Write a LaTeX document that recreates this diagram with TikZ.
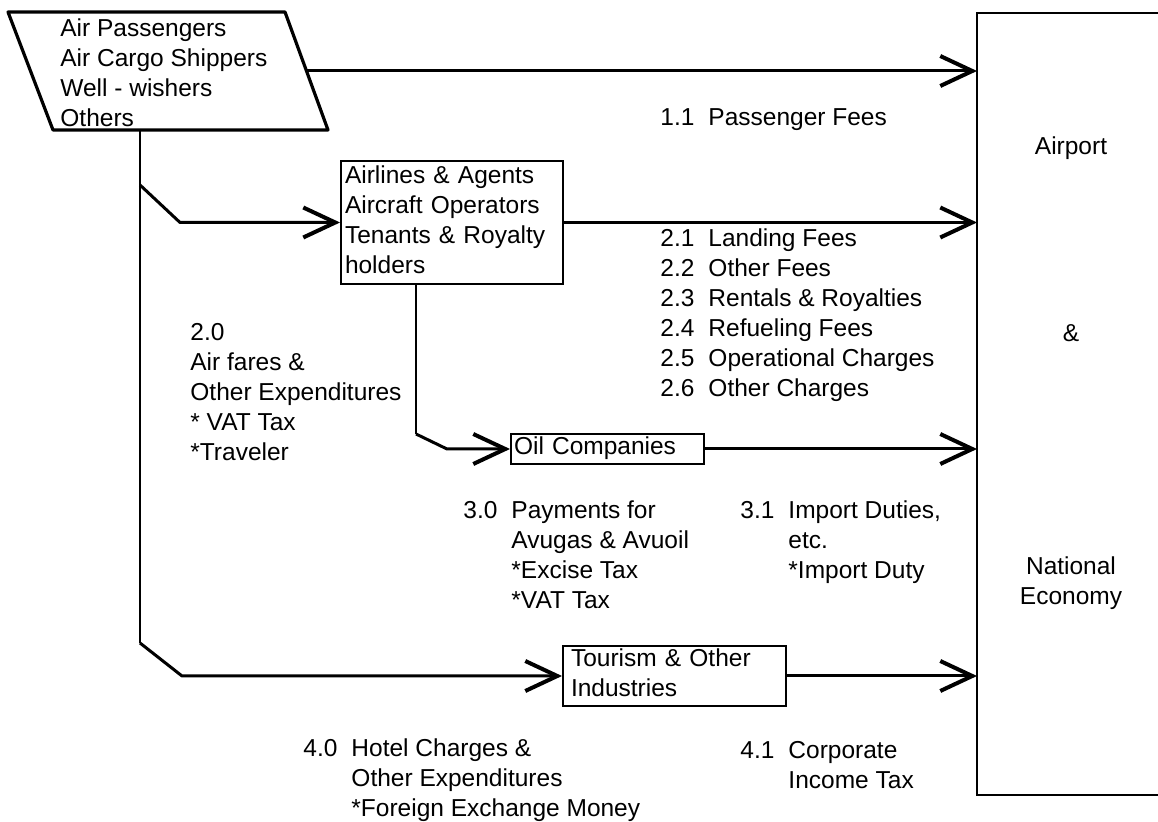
\documentclass[tikz,border=0pt]{standalone}
\usepackage{fontspec}
\setmainfont{Liberation Sans}
\usetikzlibrary{arrows.meta, calc}

\newcommand{\flowlist}[1]{\begin{tabular}{@{}l@{\hspace{7pt}}l@{}}#1\end{tabular}}
\newcommand{\plainlist}[1]{\begin{tabular}{@{}l@{}}#1\end{tabular}}

\begin{document}
\begin{tikzpicture}[
    x=0.5pt, y=-0.5pt,
    font=\fontsize{12.25}{15}\selectfont,
    flow/.style={line width=1.5pt, line join=round, -{Straight Barb[length=16pt, width=15pt, line width=2pt]}},
    trunk/.style={line width=1.2pt},
    box/.style={draw, line width=1pt, anchor=north west, inner ysep=0pt, align=left},
    lbl/.style={anchor=north west, inner sep=0pt},
]
    \useasboundingbox (0,0) rectangle (1158,822);

    % who pays
    \coordinate (srcTL) at (8,12);
    \coordinate (srcTR) at (285,12);
    \coordinate (srcBR) at (328,130);
    \coordinate (srcBL) at (53,130);
    \draw[line width=1.6pt, line join=round] (srcTL) -- (srcTR) -- (srcBR) -- (srcBL) -- cycle;
    \node[lbl] (src) at (60,15) {\plainlist{Air Passengers\\Air Cargo Shippers\\Well - wishers\\Others}};

    % who receives (runs off the right edge)
    \node[anchor=north west, minimum width=90.5pt, minimum height=390pt, inner sep=0pt, outer sep=0.5pt] (econ) at (977,13) {};
    \draw[line width=1pt] (econ.north east) -- (econ.north west) -- (econ.south west) -- (econ.south east);
    \node (airport) at (1071,148) {Airport};
    \node (amp) at (1071,333) {\&};
    \node[align=center] (natl) at (1071,583) {National\\Economy};

    % intermediaries
    \node[box, minimum width=111pt, minimum height=61.5pt, text width=107pt, inner xsep=2pt] (air) at (340,160)
        {\plainlist{Airlines \& Agents\\Aircraft Operators\\Tenants \& Royalty\\holders}};
    \node[box, minimum height=14.5pt, text width=93.5pt, inner xsep=1.5pt] (oil) at (510,433)
        {\plainlist{Oil Companies}};
    \node[box, minimum height=30pt, text width=103.5pt, inner xsep=4pt] (tour) at (562,645)
        {\plainlist{Tourism \& Other\\Industries}};

    % money flows
    \coordinate (srcR) at ($(srcTR)!0.5!(srcBR)$);
    \draw[flow] (srcR) -- (srcR -| econ.west);

    \coordinate (srcB) at (140,130);
    \coordinate (fork) at (140,185);
    \coordinate (low) at (140,643);
    \draw[trunk] (srcB) -- (low);
    \draw[flow] (fork) -- ($(fork |- air.west)+(40,0)$) -- (air.west);
    \draw[flow] (low) -- ($(low |- tour.west)+(42,0)$) -- (tour.west);

    \coordinate (stem) at ($(air.south west)+(76,0)$);
    \draw[trunk] (stem) -- ($(stem |- oil.west)+(0,-15)$);
    \draw[flow] ($(stem |- oil.west)+(0,-15)$) -- ($(stem |- oil.west)+(31,0)$) -- (oil.west);

    \draw[flow] (air.east) -- (air.east -| econ.west);
    \draw[flow] (oil.east) -- (oil.east -| econ.west);
    \draw[flow] (tour.east) -- (tour.east -| econ.west);

    % labels
    \node[lbl] (fee11) at (660,104) {\flowlist{1.1 & Passenger Fees}};
    \node[lbl] (fee2x) at (660,225) {\flowlist{2.1 & Landing Fees\\2.2 & Other Fees\\2.3 & Rentals \& Royalties\\
        2.4 & Refueling Fees\\2.5 & Operational Charges\\2.6 & Other Charges}};
    \node[lbl] (pay20) at (190,319) {\plainlist{2.0\\Air fares \&\\Other Expenditures\\{}* VAT Tax\\{}*Traveler}};
    \node[lbl] (pay30) at (463,497) {\flowlist{3.0 & Payments for\\ & Avugas \& Avuoil\\ & *Excise Tax\\ & *VAT Tax}};
    \node[lbl] (duty31) at (740,497) {\flowlist{3.1 & Import Duties,\\ & etc.\\ & *Import Duty}};
    \node[lbl] (pay40) at (303,735) {\flowlist{4.0 & Hotel Charges \&\\ & Other Expenditures\\ & *Foreign Exchange Money}};
    \node[lbl] (tax41) at (740,737) {\flowlist{4.1 & Corporate\\ & Income Tax}};
\end{tikzpicture}
\end{document}
